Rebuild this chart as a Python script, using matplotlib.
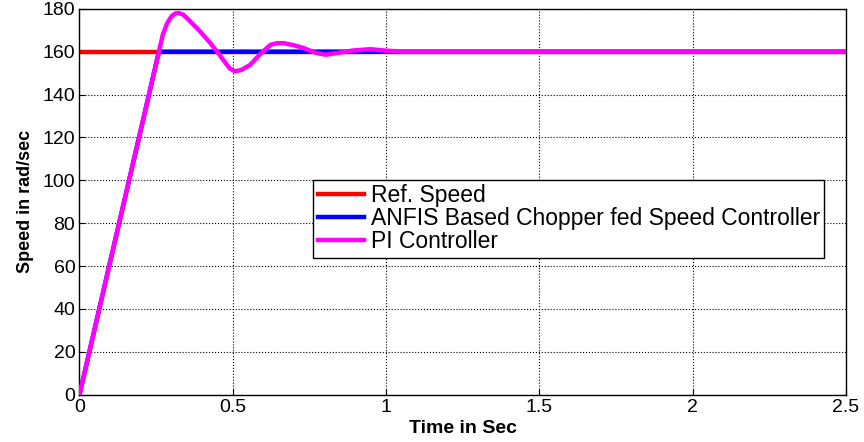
import matplotlib
matplotlib.use("Agg")
from matplotlib import pyplot as plt

# reference speed
ref_t = [0.0, 2.5]
ref_speed = [160, 160]

# ANFIS based chopper fed speed controller
anfis_t = [0.0, 0.1, 0.204, 0.259, 0.275, 2.5]
anfis_speed = [0, 62, 126, 160, 160, 160]

# PI controller response
pi_t = [0.0, 0.1, 0.204, 0.259, 0.272, 0.286, 0.30, 0.312, 0.324, 0.338, 0.351,
        0.39, 0.427, 0.449, 0.47, 0.49, 0.508, 0.53, 0.557, 0.59, 0.623, 0.645,
        0.666, 0.70, 0.731, 0.77, 0.802, 0.85, 0.894, 0.948, 1.0, 1.056, 2.5]
pi_speed = [0, 62, 126, 160, 168, 173.3, 176.5, 177.8, 178, 177.3, 175.6,
            170, 164, 160, 156, 152.2, 150.8, 151.6, 153.9, 159, 163.2, 164,
            164, 163, 161.7, 159.5, 158.6, 159.6, 160.6, 161.2, 160.5, 160, 160]

fig, ax = plt.subplots(figsize=(8.64, 4.42), dpi=100)
fig.subplots_adjust(left=0.092, right=0.979, top=0.98, bottom=0.107)

ax.plot(ref_t, ref_speed, color='#ff0000', lw=3.2, label='Ref. Speed', zorder=2)
ax.plot(anfis_t, anfis_speed, color='#0000ff', lw=3.2,
        label='ANFIS Based Chopper fed Speed Controller', zorder=3)
ax.plot(pi_t, pi_speed, color='#ff00ff', lw=3.2, label='PI Controller', zorder=4)

ax.set_xlim(0, 2.5)
ax.set_ylim(0, 180)
ax.set_xticks([0, 0.5, 1, 1.5, 2, 2.5])
ax.set_xticklabels(['0', '0.5', '1', '1.5', '2', '2.5'])
ax.set_yticks(range(0, 181, 20))
ax.grid(True, color='black', linestyle=':', linewidth=0.8)
ax.tick_params(direction='in', labelsize=14, length=4, pad=3)
for lbl in ax.get_xticklabels() + ax.get_yticklabels():
    lbl.set_fontfamily('Liberation Sans')
for sp in ax.spines.values():
    sp.set_linewidth(1.0)

ax.set_xlabel('Time in Sec', fontsize=14, fontweight='bold',
              family='Liberation Sans', labelpad=3)
ax.set_ylabel('Speed in rad/sec', fontsize=13, fontweight='bold',
              family='Liberation Sans', labelpad=6)

leg = ax.legend(loc='lower left', bbox_to_anchor=(0.305, 0.355),
                prop={'family': 'Liberation Sans', 'size': 16.5},
                fancybox=False, framealpha=1, edgecolor='black',
                handlelength=2.0, labelspacing=0.0, borderpad=0.2,
                handletextpad=0.3, borderaxespad=0)
leg.get_frame().set_linewidth(1.0)

plt.savefig('out.png')
